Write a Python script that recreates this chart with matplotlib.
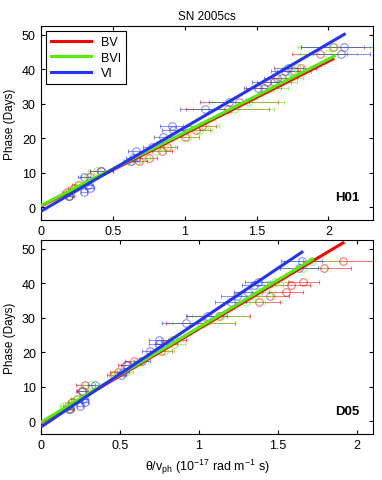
import numpy as np
import matplotlib
matplotlib.use("Agg")
import matplotlib.pyplot as plt

plt.rcParams["font.family"] = ["Liberation Sans", "DejaVu Sans"]
plt.rcParams["mathtext.default"] = "regular"

# Phase (days) of each epoch, shared by all colour combinations
phase = [3.4, 4.3, 5.5, 6.5, 8.8, 10.4, 13.5, 14.4, 16.4, 17.4, 20.4,
         22.4, 23.4, 28.4, 30.4, 34.4, 36.4, 37.4, 39.4, 40.4, 44.4, 46.4]

# H01 panel: theta/v_ph per epoch and its error
h01_bv = [0.20, 0.18, 0.23, 0.26, 0.34, 0.42, 0.68, 0.75, 0.84, 0.88, 1.00,
          1.08, 1.12, 1.30, 1.38, 1.55, 1.62, 1.68, 1.76, 1.81, 1.94, 2.03]
h01_bv_err = [0.03, 0.03, 0.04, 0.04, 0.06, 0.08, 0.06, 0.06, 0.07, 0.07, 0.10,
              0.10, 0.10, 0.29, 0.27, 0.12, 0.12, 0.10, 0.12, 0.10, 0.19, 0.22]
h01_bvi = [0.19, 0.20, 0.24, 0.27, 0.33, 0.39, 0.62, 0.70, 0.80, 0.86, 1.02,
           1.10, 1.14, 1.34, 1.44, 1.60, 1.66, 1.72, 1.74, 1.78, 2.00, 2.04]
h01_bvi_err = [0.03, 0.03, 0.03, 0.04, 0.05, 0.06, 0.05, 0.06, 0.07, 0.07, 0.08,
               0.09, 0.10, 0.28, 0.25, 0.12, 0.12, 0.10, 0.11, 0.10, 0.20, 0.25]
h01_vi = [0.20, 0.30, 0.34, 0.33, 0.30, 0.42, 0.63, 0.64, 0.66, 0.77, 0.85,
          0.92, 0.91, 1.14, 1.31, 1.51, 1.57, 1.64, 1.70, 1.72, 2.09, 2.11]
h01_vi_err = [0.02, 0.02, 0.03, 0.03, 0.04, 0.08, 0.05, 0.05, 0.05, 0.06, 0.06,
              0.08, 0.08, 0.17, 0.14, 0.10, 0.10, 0.09, 0.10, 0.10, 0.20, 0.30]

# D05 panel
d05_bv = [0.18, 0.17, 0.20, 0.23, 0.26, 0.28, 0.46, 0.49, 0.54, 0.59, 0.76,
          0.79, 0.84, 1.01, 1.125, 1.38, 1.45, 1.55, 1.58, 1.66, 1.79, 1.91]
d05_bv_err = [0.03, 0.03, 0.03, 0.04, 0.04, 0.06, 0.04, 0.05, 0.05, 0.06, 0.07,
              0.07, 0.08, 0.22, 0.20, 0.13, 0.12, 0.11, 0.12, 0.10, 0.17, 0.25]
d05_bvi = [0.17, 0.15, 0.20, 0.23, 0.27, 0.32, 0.47, 0.53, 0.58, 0.63, 0.78,
           0.84, 0.83, 1.03, 1.135, 1.30, 1.35, 1.38, 1.43, 1.48, 1.66, 1.715]
d05_bvi_err = [0.03, 0.03, 0.03, 0.03, 0.04, 0.05, 0.04, 0.05, 0.05, 0.05, 0.06,
               0.07, 0.07, 0.20, 0.18, 0.12, 0.11, 0.10, 0.10, 0.09, 0.15, 0.18]
d05_vi = [0.185, 0.25, 0.28, 0.27, 0.26, 0.34, 0.51, 0.52, 0.545, 0.64, 0.69,
          0.745, 0.745, 0.915, 1.05, 1.20, 1.24, 1.31, 1.35, 1.37, 1.63, 1.65]
d05_vi_err = [0.02, 0.02, 0.02, 0.03, 0.03, 0.04, 0.03, 0.04, 0.04, 0.05, 0.05,
              0.06, 0.06, 0.15, 0.13, 0.10, 0.10, 0.09, 0.08, 0.08, 0.12, 0.13]

# Linear fits (slope, intercept): BV, BVI, VI
h01_slope = [21.0, 21.2, 24.3]
h01_icpt = [0.3, 0.5, -1.2]
d05_slope = [27.3, 27.5, 30.7]
d05_icpt = [-0.5, -0.3, -1.7]

labels = ["BV", "BVI", "VI"]
colors = ["#ff0000", "#55ee00", "#2233ff"]

fig = plt.figure(figsize=(3.82, 4.81), dpi=100)
ax1 = fig.add_axes([0.1066, 0.5405, 0.870, 0.4035])
ax2 = fig.add_axes([0.1066, 0.0956, 0.870, 0.4035])

panels = [
    (ax1, [h01_bv, h01_bvi, h01_vi], [h01_bv_err, h01_bvi_err, h01_vi_err],
     h01_slope, h01_icpt, "H01", 2.31),
    (ax2, [d05_bv, d05_bvi, d05_vi], [d05_bv_err, d05_bvi_err, d05_vi_err],
     d05_slope, d05_icpt, "D05", 2.10),
]

for ax, xs, errs, slopes, icpts, tag, xmax in panels:
    handles = []
    for x, e, c in zip(xs, errs, colors):
        ax.errorbar(x, phase, xerr=e, fmt="o", mfc="none", mec=c, ms=5.5, mew=0.8,
                    ecolor=c, elinewidth=0.7, capsize=1.5, alpha=0.55, zorder=2)
    for x, s, b, c, lab in zip(xs, slopes, icpts, colors, labels):
        xx = np.array([0, max(x)])
        h, = ax.plot(xx, s * xx + b, color=c, lw=2.2, label=lab, zorder=3)
        handles.append(h)
    ax.set_xlim(0, xmax)
    ax.set_ylim(-3.7, 52.5)
    ax.set_xticks([0, 0.5, 1, 1.5, 2])
    ax.set_xticklabels(["0", "0.5", "1", "1.5", "2"])
    ax.set_yticks([0, 10, 20, 30, 40, 50])
    ax.tick_params(direction="in", top=True, right=True, labelsize=9, length=3)
    ax.set_ylabel("Phase (Days)", fontsize=8.5)
    ax.text(0.96, 0.12, tag, transform=ax.transAxes, ha="right", va="center",
            fontsize=9.5, fontweight="bold")

leg = ax1.legend(handles=handles, loc="upper left", fontsize=9, fancybox=False,
                 framealpha=1, edgecolor="black", handlelength=3.2,
                 borderaxespad=0.4, labelspacing=0.3)
leg.get_frame().set_linewidth(0.8)

ax1.set_title("SN 2005cs", fontsize=8.5, pad=5)
ax2.set_xlabel(r"$\theta/v_{ph}$ ($10^{-17}$ rad m$^{-1}$ s)", fontsize=9)

fig.savefig("out.png", dpi=100)
